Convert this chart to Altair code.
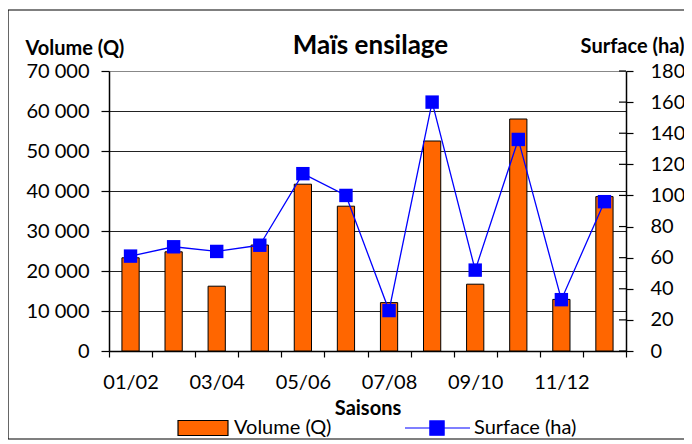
import altair as alt
import pandas as pd

# ---- data ----
seasons = ['01/02', '02/03', '03/04', '04/05', '05/06', '06/07',
           '07/08', '08/09', '09/10', '10/11', '11/12', '12/13']
volume = [23300, 24800, 16200, 26500, 41700, 36200,
          12100, 52500, 16700, 58000, 12900, 38600]
surface = [61, 67, 64, 68, 114, 100, 26, 160, 52, 136, 33, 96]
shown_seasons = ['01/02', '03/04', '05/06', '07/08', '09/10', '11/12']
volume_ticks = [0, 10000, 20000, 30000, 40000, 50000, 60000, 70000]
surface_ticks = [0, 20, 40, 60, 80, 100, 120, 140, 160, 180]
series = ['Volume (Q)', 'Surface (ha)']
series_fill = ['#FF6600', '#0000FF']
series_stroke = ['#000000', '#0000FF']

W, H = 517, 280
FONT = 'Lato'

df = pd.DataFrame({'Saison': seasons, 'Volume': volume, 'Surface': surface})
tick_df = pd.DataFrame({'t': surface_ticks})
leg_df = pd.DataFrame({'series': series})
frame_df = pd.DataFrame({'k': [0]})

label_expr = ("indexof([" + ",".join("'%s'" % s for s in shown_seasons) +
              "], datum.value) >= 0 ? datum.value : ''")

xenc = alt.X('Saison:N', sort=seasons,
             scale=alt.Scale(paddingInner=0, paddingOuter=0),
             axis=alt.Axis(title='Saisons', labelAngle=0, tickBand='extent',
                           labelExpr=label_expr, tickSize=6, labelPadding=15,
                           titlePadding=6, grid=False))

bars = alt.Chart(df).mark_bar(color='#FF6600', stroke='black', strokeWidth=1,
                              width=alt.RelativeBandSize(0.4)).encode(
    x=xenc,
    y=alt.Y('Volume:Q', scale=alt.Scale(domain=[0, 70000], nice=False),
            axis=alt.Axis(orient='left', values=volume_ticks,
                          labelExpr="replace(format(datum.value, ','), ',', ' ')",
                          title='Volume (Q)', titleAngle=0, titleAlign='left',
                          titleBaseline='alphabetic', titleX=-84, titleY=-17,
                          grid=True,
                          gridColor={"condition": {"test": "datum.value == 70000", "value": "#888888"},
                                     "value": "#222222"},
                          tickSize=8, labelPadding=12)),
)

surf_scale = alt.Scale(domain=[0, 180], nice=False)

line = alt.Chart(df).mark_line(color='#0000FF', strokeWidth=1.3).encode(
    x=alt.X('Saison:N', sort=seasons),
    y=alt.Y('Surface:Q', scale=surf_scale,
            axis=alt.Axis(orient='right', values=surface_ticks, title='Surface (ha)',
                          titleAngle=0, titleAlign='right', titleBaseline='alphabetic',
                          titleX=58, titleY=-19, grid=False, tickSize=7,
                          labelPadding=17)),
)

points = alt.Chart(df).mark_square(color='#0000FF', size=180, opacity=1).encode(
    x=alt.X('Saison:N', sort=seasons),
    y=alt.Y('Surface:Q', scale=surf_scale, axis=None),
)

inner_ticks = alt.Chart(tick_df).mark_rule(color='black', strokeWidth=1.2).encode(
    x=alt.value(W), x2=alt.value(W - 7),
    y=alt.Y('t:Q', scale=surf_scale, axis=None),
)

rect_path = 'M-2.53,-1 L4.13,-1 L4.13,1 L-2.53,1 Z'
line_path = 'M-4.27,0 L4.4,0 M-0.95,-0.95 L0.95,-0.95 L0.95,0.95 L-0.95,0.95 Z'

leg = alt.Legend(title=None, orient='none', legendX=53, legendY=347,
                 direction='horizontal', symbolSize=225, symbolStrokeWidth=1.2,
                 symbolOpacity=1, symbolOffset=25, labelOffset=27,
                 columnPadding=70, labelFont=FONT, labelFontSize=20,
                 labelColor='black')

legend_layer = alt.Chart(leg_df).mark_point(filled=True, opacity=0).encode(
    x=alt.value(0), y=alt.value(0),
    color=alt.Color('series:N', sort=series,
                    scale=alt.Scale(domain=series, range=series_fill), legend=leg),
    shape=alt.Shape('series:N', sort=series,
                    scale=alt.Scale(domain=series, range=[rect_path, line_path]), legend=leg),
    stroke=alt.Stroke('series:N', sort=series,
                      scale=alt.Scale(domain=series, range=series_stroke), legend=leg),
)

frame = alt.Chart(frame_df).mark_rect(fill=None, stroke='black', strokeWidth=1.2).encode(
    x=alt.value(-101), x2=alt.value(600), y=alt.value(-61), y2=alt.value(368),
)

chart = alt.layer(
    frame, bars, line, points, inner_ticks, legend_layer
).resolve_scale(y='independent').properties(
    width=W, height=H,
    autosize=alt.AutoSizeParams(type='none'),
    padding={'left': 101, 'top': 63, 'right': 58, 'bottom': 89},
    background='white',
    title=alt.TitleParams('Maïs ensilage', font=FONT, fontSize=26, fontWeight='bold',
                          anchor='middle', frame='group', dx=3, offset=0, dy=71,
                          baseline='alphabetic', color='black'),
).configure_view(stroke=None).configure_axis(
    labelFont=FONT, labelFontSize=20, labelColor='black',
    titleFont=FONT, titleFontSize=20, titleFontWeight='bold', titleColor='black',
    domainColor='black', domainWidth=1.5, tickColor='black', tickWidth=1.2,
)

chart.save('out.html', embed_options={'renderer': 'svg', 'actions': False})
